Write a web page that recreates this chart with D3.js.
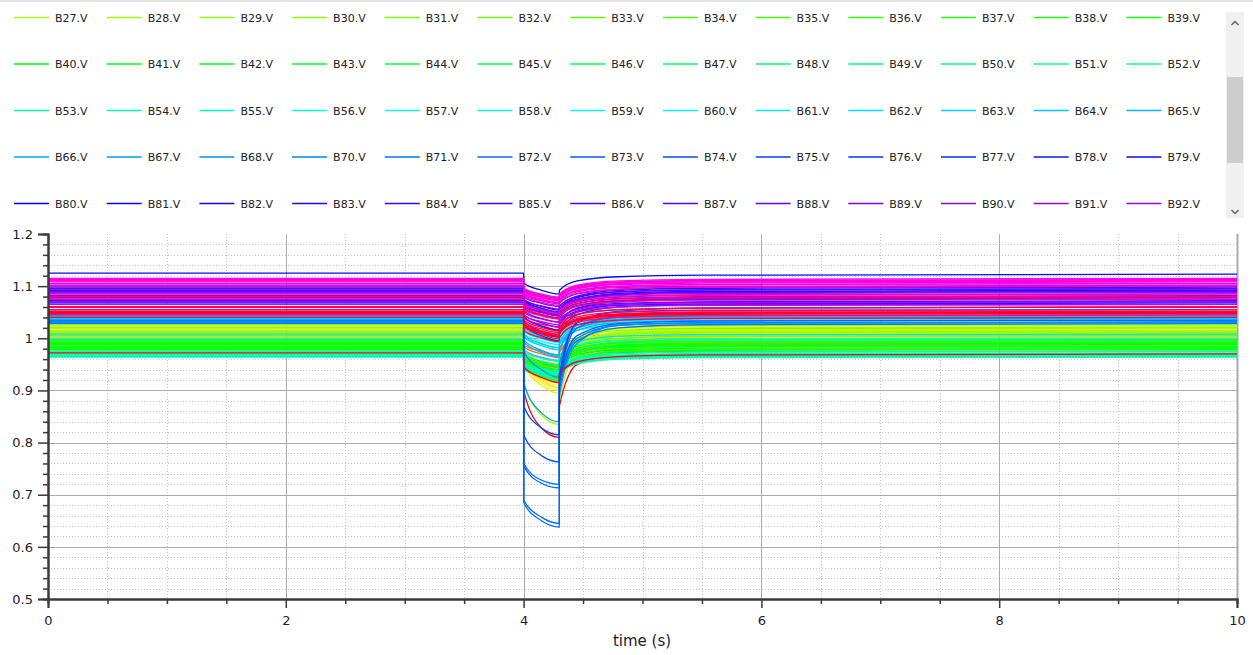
<!DOCTYPE html>
<html>
<head>
<meta charset="UTF-8">
<title>Bus voltages</title>
<script src="https://cdn.jsdelivr.net/npm/d3@7"></script>
<style>
  body { margin: 0; background: #fff; }
  svg { display: block; font-family: "DejaVu Sans", sans-serif; }
</style>
</head>
<body>
<script>

// buses of the network (B69 is the slack bus, not plotted)
var busIds = [1,2,3,4,5,6,7,8,9,10,11,12,13,14,15,16,17,18,19,20,21,22,23,24,25,26,27,28,29,30,
  31,32,33,34,35,36,37,38,39,40,41,42,43,44,45,46,47,48,49,50,51,52,53,54,55,56,57,58,59,60,
  61,62,63,64,65,66,67,68,70,71,72,73,74,75,76,77,78,79,80,81,82,83,84,85,86,87,88,89,90,91,
  92,93,94,95,96,97,98,99,100,101,102,103,104,105,106,107,108,109,110,111,112,113,114,115,116,117,118];

// sample instants (s): steady state, fault at 4 s, cleared at 4.3 s
var sampleTimes = [0, 4, 4.001, 4.15, 4.3, 4.301, 4.45, 4.8, 5.5, 10];

// bus voltage (pu) at each sample instant, one row per bus
var voltages = [
  [.975,.975,.90,.828,.81,.87,.95,.972,.975,.975],
  [1.05,1.05,1.025,1.008,.998,1.008,1.035,1.046,1.05,1.05],
  [1.045,1.045,1.02,1.003,.993,1.003,1.03,1.041,1.044,1.045],
  [1.08,1.08,1.06,1.046,1.04,1.047,1.066,1.076,1.079,1.08],
  [.99,.99,.965,.95,.944,.953,.976,.986,.99,.99],
  [.995,.995,.968,.953,.947,.956,.98,.991,.994,.995],
  [.988,.988,.958,.943,.935,.946,.972,.984,.987,.988],
  [1.0,1.0,.975,.962,.956,.965,.987,.996,.999,1.0],
  [1.01,1.01,.984,.97,.963,.973,.996,1.006,1.009,1.01],
  [1.012,1.012,.987,.975,.968,.977,1.0,1.009,1.011,1.012],
  [.985,.985,.952,.937,.93,.942,.968,.98,.984,.985],
  [.99,.99,.963,.949,.943,.953,.976,.986,.989,.99],
  [.98,.98,.945,.925,.915,.93,.962,.976,.979,.98],
  [.992,.992,.955,.935,.925,.94,.972,.987,.991,.992],
  [1.005,1.005,.965,.942,.932,.948,.982,1.0,1.004,1.005],
  [.998,.998,.958,.935,.925,.94,.975,.993,.997,.998],
  [1.003,1.003,.96,.935,.922,.94,.978,.998,1.002,1.003],
  [1.015,1.015,.955,.92,.905,.93,.985,1.008,1.013,1.015],
  [1.02,1.02,.95,.91,.895,.925,.985,1.012,1.018,1.02],
  [1.025,1.025,.96,.923,.91,.935,.99,1.018,1.023,1.025],
  [1.02,1.02,.955,.915,.90,.928,.985,1.012,1.018,1.02],
  [1.028,1.028,.965,.928,.915,.94,.995,1.02,1.026,1.028],
  [1.018,1.018,.962,.933,.92,.942,.99,1.012,1.016,1.018],
  [1.01,1.01,.965,.942,.93,.95,.988,1.005,1.009,1.01],
  [1.03,1.03,.97,.94,.925,.95,1.0,1.024,1.028,1.03],
  [1.025,1.025,.975,.95,.94,.958,1.0,1.02,1.024,1.025],
  [1.022,1.022,.915,.853,.835,.88,.975,1.012,1.02,1.022],
  [1.015,1.015,.97,.948,.94,.955,.993,1.01,1.014,1.015],
  [1.012,1.012,.968,.948,.94,.955,.99,1.007,1.011,1.012],
  [1.008,1.008,.965,.945,.938,.952,.985,1.003,1.007,1.008],
  [1.02,1.02,.975,.955,.948,.962,.998,1.015,1.019,1.02],
  [1.005,1.005,.965,.945,.938,.95,.985,1.0,1.004,1.005],
  [.995,.995,.955,.935,.928,.942,.975,.99,.994,.995],
  [.99,.99,.95,.93,.922,.938,.97,.985,.989,.99],
  [.985,.985,.948,.928,.918,.935,.965,.98,.984,.985],
  [.98,.98,.945,.928,.92,.935,.962,.976,.979,.98],
  [.998,.998,.962,.945,.938,.95,.98,.993,.997,.998],
  [.992,.992,.958,.942,.935,.948,.975,.988,.991,.992],
  [.988,.988,.955,.94,.934,.946,.972,.984,.987,.988],
  [.982,.982,.952,.938,.932,.944,.968,.978,.981,.982],
  [.978,.978,.948,.935,.93,.94,.963,.974,.977,.978],
  [.99,.99,.962,.95,.945,.955,.977,.986,.989,.99],
  [.985,.985,.958,.946,.94,.95,.972,.982,.984,.985],
  [1.0,1.0,.97,.956,.95,.96,.985,.996,.999,1.0],
  [.995,.995,.966,.953,.948,.958,.98,.991,.994,.995],
  [.975,.975,.95,.938,.933,.942,.962,.971,.974,.975],
  [.97,.97,.945,.932,.927,.936,.957,.966,.969,.97],
  [.968,.968,.944,.932,.928,.936,.955,.964,.967,.968],
  [.965,.965,.94,.928,.923,.932,.952,.961,.964,.965],
  [.97,.97,.946,.935,.93,.938,.958,.966,.969,.97],
  [.966,.966,.942,.93,.925,.934,.953,.962,.965,.966],
  [.972,.972,.948,.937,.932,.94,.96,.968,.971,.972],
  [.968,.968,.945,.934,.93,.938,.956,.964,.967,.968],
  [.975,.975,.952,.942,.937,.945,.963,.971,.974,.975],
  [.964,.964,.94,.93,.925,.933,.951,.96,.963,.964],
  [.97,.97,.948,.938,.934,.941,.958,.966,.969,.97],
  [1.0,1.0,.975,.962,.956,.965,.988,.996,.999,1.0],
  [1.035,1.035,1.008,.994,.988,.996,1.02,1.03,1.034,1.035],
  [1.04,1.04,1.013,.999,.992,1.0,1.025,1.035,1.039,1.04],
  [1.045,1.045,1.018,1.004,.997,1.005,1.03,1.04,1.044,1.045],
  [1.03,1.03,1.003,.989,.982,.99,1.015,1.026,1.029,1.03],
  [1.008,1.008,.978,.964,.958,.967,.993,1.004,1.007,1.008],
  [1.038,1.038,1.003,.986,.978,.988,1.02,1.033,1.037,1.038],
  [1.042,1.042,1.007,.99,.982,.992,1.025,1.037,1.041,1.042],
  [1.035,1.035,.993,.973,.965,.978,1.015,1.03,1.034,1.035],
  [1.04,1.04,.997,.977,.968,.98,1.02,1.035,1.039,1.04],
  [1.03,1.03,.915,.857,.84,.89,.99,1.025,1.029,1.03],
  [1.045,1.045,.975,.94,.925,.95,1.025,1.04,1.044,1.045],
  [1.032,1.032,.76,.728,.72,.91,1.0,1.025,1.03,1.032],
  [1.028,1.028,.685,.65,.638,.90,.995,1.02,1.026,1.028],
  [1.05,1.05,.69,.657,.645,.92,1.02,1.042,1.048,1.05],
  [1.035,1.035,.755,.722,.713,.915,1.005,1.028,1.033,1.035],
  [1.06,1.06,.815,.775,.763,.93,1.03,1.052,1.058,1.06],
  [1.055,1.055,.87,.828,.815,.92,1.03,1.05,1.054,1.055],
  [1.065,1.065,1.025,1.005,.995,1.008,1.045,1.06,1.064,1.065],
  [1.07,1.07,1.033,1.014,1.004,1.017,1.05,1.065,1.069,1.07],
  [1.075,1.075,1.042,1.024,1.015,1.027,1.058,1.07,1.074,1.075],
  [1.125,1.125,1.106,1.092,1.085,1.092,1.11,1.118,1.121,1.123],
  [1.095,1.095,1.072,1.058,1.05,1.057,1.078,1.089,1.093,1.095],
  [1.09,1.09,1.065,1.05,1.043,1.051,1.072,1.084,1.088,1.09],
  [1.092,1.092,1.068,1.053,1.046,1.053,1.074,1.086,1.09,1.092],
  [1.098,1.098,1.075,1.061,1.054,1.061,1.081,1.092,1.096,1.098],
  [1.068,1.068,1.04,1.024,1.016,1.026,1.052,1.063,1.066,1.068],
  [1.072,1.072,1.045,1.03,1.022,1.032,1.057,1.067,1.07,1.072],
  [1.078,1.078,1.053,1.038,1.031,1.039,1.062,1.072,1.076,1.078],
  [1.085,1.085,1.064,1.052,1.046,1.052,1.07,1.079,1.083,1.085],
  [1.095,1.095,1.074,1.062,1.056,1.062,1.08,1.089,1.093,1.095],
  [1.09,1.09,1.069,1.057,1.051,1.057,1.075,1.084,1.088,1.09],
  [1.1,1.1,1.079,1.067,1.061,1.067,1.085,1.094,1.098,1.1],
  [1.082,1.082,1.061,1.049,1.043,1.049,1.067,1.076,1.08,1.082],
  [1.078,1.078,1.057,1.045,1.039,1.045,1.063,1.072,1.076,1.078],
  [1.088,1.088,1.067,1.055,1.049,1.055,1.073,1.082,1.086,1.088],
  [1.07,1.07,1.049,1.037,1.031,1.037,1.055,1.065,1.068,1.07],
  [1.065,1.065,1.044,1.032,1.026,1.032,1.05,1.06,1.063,1.065],
  [1.102,1.102,1.083,1.072,1.066,1.072,1.089,1.097,1.1,1.102],
  [1.105,1.105,1.086,1.075,1.069,1.075,1.092,1.1,1.103,1.105],
  [1.108,1.108,1.089,1.078,1.072,1.078,1.095,1.103,1.106,1.108],
  [1.11,1.11,1.091,1.08,1.074,1.08,1.097,1.105,1.108,1.11],
  [1.115,1.115,1.096,1.085,1.079,1.085,1.102,1.11,1.113,1.115],
  [1.112,1.112,1.093,1.082,1.076,1.082,1.099,1.107,1.11,1.112],
  [1.11,1.11,1.09,1.079,1.073,1.079,1.096,1.104,1.108,1.11],
  [1.105,1.105,1.085,1.074,1.068,1.074,1.091,1.099,1.103,1.105],
  [1.113,1.113,1.094,1.083,1.077,1.083,1.1,1.108,1.111,1.113],
  [1.1,1.1,1.08,1.069,1.063,1.069,1.086,1.094,1.098,1.1],
  [1.085,1.085,1.065,1.053,1.047,1.053,1.071,1.08,1.083,1.085],
  [1.075,1.075,1.055,1.043,1.037,1.043,1.061,1.07,1.073,1.075],
  [1.06,1.06,1.039,1.027,1.021,1.028,1.046,1.055,1.058,1.06],
  [1.045,1.045,1.022,1.009,1.003,1.01,1.031,1.04,1.043,1.045],
  [1.05,1.05,1.026,1.013,1.007,1.014,1.036,1.045,1.048,1.05],
  [1.08,1.08,1.057,1.044,1.038,1.045,1.066,1.075,1.078,1.08],
  [1.055,1.055,1.031,1.018,1.011,1.018,1.041,1.05,1.053,1.055],
  [1.052,1.052,1.028,1.014,1.008,1.015,1.038,1.047,1.05,1.052],
  [1.04,1.04,1.015,1.001,.994,1.001,1.026,1.035,1.038,1.04],
  [1.06,1.06,1.035,1.021,1.014,1.022,1.046,1.055,1.058,1.06],
  [1.048,1.048,1.023,1.009,1.002,1.009,1.034,1.043,1.046,1.048],
  [1.05,1.05,1.025,1.011,1.004,1.011,1.036,1.045,1.048,1.05],
  [.972,.972,.945,.925,.915,.93,.955,.965,.968,.97]
];

var xTicks = [0, 2, 4, 6, 8, 10];
var yTicks = [0.5, 0.6, 0.7, 0.8, 0.9, 1, 1.1, 1.2];
var legendFrom = "B27", legendTo = "B92";

var W = 1253, H = 655;
var plotL = 48, plotR = 1237, plotT = 234, plotB = 599;

var svg = d3.select("body").append("svg")
    .attr("width", W)
    .attr("height", H);

var hue = d3.scaleLinear().domain([0, busIds.length]).range([0, 360]);
function busColor(i) {
  return d3.hsl(hue(i), 1, 0.5).formatHex();
}

// ---- legend panel ----
svg.append("rect").attr("x", 0).attr("y", 0).attr("width", W).attr("height", 2).attr("fill", "#e3e3e3");

var names = busIds.map(function(b) { return "B" + b + ".V"; });
var first = names.indexOf(legendFrom + ".V"), last = names.indexOf(legendTo + ".V");
var legendItems = d3.range(first, last + 1);

var legend = svg.append("g");
var item = legend.selectAll("g")
    .data(legendItems)
    .enter()
    .append("g")
    .attr("transform", function(d, i) {
      return "translate(" + (14 + (i % 13) * 92.7) + "," + (17.5 + Math.floor(i / 13) * 46.5) + ")";
    });
item.append("line")
    .attr("x1", 0).attr("x2", 35)
    .attr("stroke", function(d) { return busColor(d); })
    .attr("stroke-width", 1.3);
item.append("text")
    .attr("x", 41).attr("y", 4)
    .attr("font-size", "11px")
    .attr("fill", "#222")
    .text(function(d) { return names[d]; });

// scrollbar
var sb = svg.append("g");
sb.append("rect").attr("x", 1226).attr("y", 12).attr("width", 18).attr("height", 206).attr("fill", "#f0f0f0");
sb.append("rect").attr("x", 1227).attr("y", 77).attr("width", 16).attr("height", 86).attr("fill", "#cdcdcd");
sb.append("path").attr("d", "M1231.5,25 L1235,21.5 L1238.5,25").attr("fill", "none").attr("stroke", "#606060").attr("stroke-width", 1.4);
sb.append("path").attr("d", "M1231.5,210 L1235,213.5 L1238.5,210").attr("fill", "none").attr("stroke", "#606060").attr("stroke-width", 1.4);

// ---- plot ----
var x = d3.scaleLinear().domain([0, 10]).range([plotL, plotR]);
var y = d3.scaleLinear().domain([0.5, 1.2]).range([plotB, plotT]);

var minorY = d3.range(0.52, 1.2, 0.02).filter(function(v) { return Math.abs(v * 10 - Math.round(v * 10)) > 0.01; });
var minorX = d3.range(0.5, 10, 0.5).filter(function(v) { return v % 2 !== 0; });

var grid = svg.append("g");
grid.selectAll(".my").data(minorY).enter().append("line")
    .attr("x1", plotL).attr("x2", plotR)
    .attr("y1", function(d) { return Math.round(y(d)) + 0.5; })
    .attr("y2", function(d) { return Math.round(y(d)) + 0.5; })
    .attr("stroke", "#c4c4c4").attr("stroke-dasharray", "1,2");
grid.selectAll(".mx").data(minorX).enter().append("line")
    .attr("y1", plotT).attr("y2", plotB)
    .attr("x1", function(d) { return Math.round(x(d)) + 0.5; })
    .attr("x2", function(d) { return Math.round(x(d)) + 0.5; })
    .attr("stroke", "#c4c4c4").attr("stroke-dasharray", "1,2");
grid.selectAll(".gy").data(yTicks.slice(1, -1)).enter().append("line")
    .attr("x1", plotL).attr("x2", plotR)
    .attr("y1", function(d) { return Math.round(y(d)) + 0.5; })
    .attr("y2", function(d) { return Math.round(y(d)) + 0.5; })
    .attr("stroke", "#ababab");
grid.selectAll(".gx").data(xTicks.slice(1)).enter().append("line")
    .attr("y1", plotT).attr("y2", plotB)
    .attr("x1", function(d) { return Math.round(x(d)) + 0.5; })
    .attr("x2", function(d) { return Math.round(x(d)) + 0.5; })
    .attr("stroke", "#ababab")
    .attr("stroke-width", function(d) { return d === 10 ? 2 : 1; });

svg.append("clipPath").attr("id", "clip")
  .append("rect").attr("x", plotL).attr("y", plotT).attr("width", plotR - plotL).attr("height", plotB - plotT);

var line = d3.line()
    .x(function(d) { return x(d[0]); })
    .y(function(d) { return y(d[1]); })
    .curve(d3.curveMonotoneX);

svg.append("g").attr("clip-path", "url(#clip)")
  .selectAll("path")
  .data(voltages)
  .enter()
  .append("path")
  .attr("fill", "none")
  .attr("stroke", function(d, i) { return busColor(i); })
  .attr("stroke-width", 1.3)
  .attr("d", function(row) {
    return line(row.map(function(v, j) { return [sampleTimes[j], v]; }));
  });

// axes
var yAxis = svg.append("g").attr("transform", "translate(" + plotL + ",0)");
yAxis.call(d3.axisLeft(y).tickValues(minorY).tickSize(5).tickFormat(""));
yAxis.append("g").call(d3.axisLeft(y).tickValues(yTicks).tickSize(10).tickPadding(5).tickFormat(function(d) { return String(d); }));

var xAxis = svg.append("g").attr("transform", "translate(0," + plotB + ")");
xAxis.call(d3.axisBottom(x).tickValues(minorX).tickSize(5).tickFormat(""));
xAxis.append("g").call(d3.axisBottom(x).tickValues(xTicks).tickSize(9).tickPadding(8).tickFormat(function(d) { return String(d); }));

svg.selectAll(".domain").attr("stroke", "#3a3a3a").attr("stroke-width", 2);
svg.selectAll(".tick line").attr("stroke", "#3a3a3a").attr("stroke-width", 1.5);
svg.selectAll(".tick text").attr("font-size", "13px").attr("fill", "#1c1c2c").attr("font-family", "DejaVu Sans, sans-serif");

svg.append("text")
    .attr("x", 642).attr("y", 646)
    .attr("text-anchor", "middle")
    .attr("font-size", "15px")
    .attr("fill", "#1c1c2c")
    .text("time (s)");

</script>
</body>
</html>
